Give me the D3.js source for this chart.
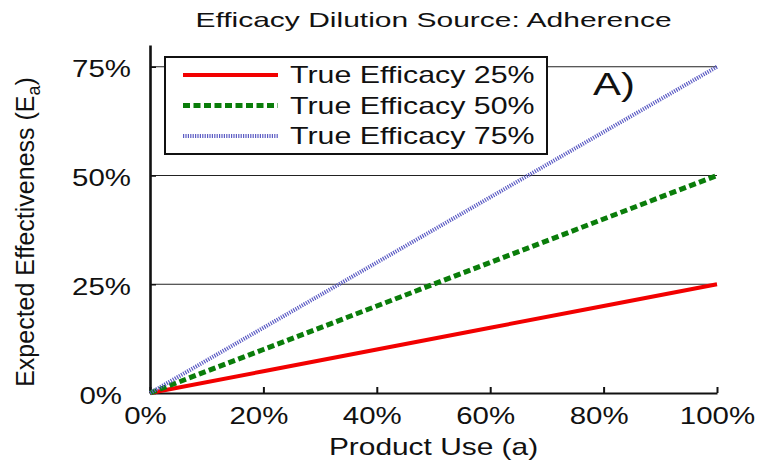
<!DOCTYPE html>
<html lang="en">
<head>
<meta charset="UTF-8">
<title>Efficacy Dilution Source: Adherence</title>
<script src="https://cdn.jsdelivr.net/npm/d3@7"></script>
<style>
  body { margin: 0; background: #fff; }
  text { font-family: "Liberation Sans", Arial, sans-serif; fill: #111; }
</style>
</head>
<body>
<svg id="chart"></svg>
<script>
  const width = 759, height = 460;

  // data
  const productUse = [0, 0.2, 0.4, 0.6, 0.8, 1.0];
  const eff25 = [0, 0.05, 0.10, 0.15, 0.20, 0.25];
  const eff50 = [0, 0.10, 0.20, 0.30, 0.40, 0.50];
  const eff75 = [0, 0.15, 0.30, 0.45, 0.60, 0.75];
  const seriesNames = ["True Efficacy 25%", "True Efficacy 50%", "True Efficacy 75%"];
  const xTicks = [0, 0.2, 0.4, 0.6, 0.8, 1.0];
  const yTicks = [0, 0.25, 0.5, 0.75];

  const series = [
    {name: seriesNames[0], values: eff25, color: "#f20000", width: 4,   dash: null},
    {name: seriesNames[1], values: eff50, color: "#0a7d0a", width: 5,   dash: "7,3.5"},
    {name: seriesNames[2], values: eff75, color: "#5c5cc4", width: 4,   dash: "1.2,1.2"}
  ];

  const svg = d3.select("#chart").attr("width", width).attr("height", height);

  const x = d3.scaleLinear().domain([0, 1]).range([150, 717]);
  const y = d3.scaleLinear().domain([0, 0.8]).range([393, 45]);
  const pct = d3.format(".0%");

  // gridlines
  svg.append("g")
    .selectAll("line")
    .data([0.25, 0.5, 0.75])
    .join("line")
      .attr("x1", x(0)).attr("x2", x(1))
      .attr("y1", d => y(d)).attr("y2", d => y(d))
      .attr("stroke", "#222").attr("stroke-width", 1.2);

  // axes
  const xAxis = svg.append("g")
    .attr("transform", `translate(0,${y(0)})`)
    .call(d3.axisBottom(x).tickValues(xTicks).tickFormat(pct).tickSize(-6).tickSizeOuter(0));
  xAxis.select(".domain").attr("stroke", "#111").attr("stroke-width", 2);
  xAxis.selectAll(".tick line").attr("stroke", "#111").attr("stroke-width", 2);
  xAxis.selectAll(".tick text")
    .attr("y", 31).attr("dy", 0).attr("x", 0)
    .attr("font-size", 23)
    .attr("transform", d => `translate(${d === 1 ? 0 : -5},0) scale(1.28,1)`);

  const yAxis = svg.append("g")
    .attr("transform", `translate(${x(0)},0)`)
    .call(d3.axisLeft(y).tickValues(yTicks).tickFormat(pct).tickSize(-6).tickSizeOuter(0));
  yAxis.select(".domain").attr("stroke", "#111").attr("stroke-width", 2.6);
  yAxis.selectAll(".tick line").attr("stroke", "#111").attr("stroke-width", 1.5);
  yAxis.selectAll(".tick text")
    .attr("x", 0).attr("dy", 0).attr("y", 10)
    .attr("font-size", 23)
    .attr("text-anchor", "end")
    .attr("transform", d => `translate(${d === 0 ? -28 : -19},0) scale(1.28,1)`);
  yAxis.attr("font-family", null);
  xAxis.attr("font-family", null);

  // series lines
  const line = d3.line().x((d, i) => x(productUse[i])).y(d => y(d));
  svg.append("g")
    .selectAll("path")
    .data(series)
    .join("path")
      .attr("d", d => line(d.values))
      .attr("fill", "none")
      .attr("stroke", d => d.color)
      .attr("stroke-width", d => d.width)
      .attr("stroke-dasharray", d => d.dash);

  // legend
  const legend = svg.append("g");
  legend.append("rect")
    .attr("x", 165).attr("y", 57).attr("width", 382).attr("height", 97)
    .attr("fill", "#fff").attr("stroke", "#111").attr("stroke-width", 2);
  const rows = legend.selectAll("g.row")
    .data(series)
    .join("g")
      .attr("class", "row")
      .attr("transform", (d, i) => `translate(0,${75 + i * 30.5})`);
  rows.append("line")
    .attr("x1", 183).attr("x2", 278)
    .attr("stroke", d => d.color)
    .attr("stroke-width", d => d.width)
    .attr("stroke-dasharray", d => d.dash);
  rows.append("text")
    .attr("transform", "translate(290,8) scale(1.32,1)")
    .attr("font-size", 23)
    .text(d => d.name);

  // panel label
  svg.append("text")
    .attr("transform", "translate(593,95) scale(1.31,1)")
    .attr("font-size", 32)
    .text("A)");

  // title
  svg.append("text")
    .attr("transform", `translate(${(x(0) + x(1)) / 2},27) scale(1.5,1)`)
    .attr("text-anchor", "middle")
    .attr("font-size", 20)
    .text("Efficacy Dilution Source: Adherence");

  // axis titles
  svg.append("text")
    .attr("transform", `translate(${(x(0) + x(1)) / 2},455) scale(1.3,1)`)
    .attr("text-anchor", "middle")
    .attr("font-size", 23)
    .text("Product Use (a)");

  const yl = svg.append("text")
    .attr("transform", "translate(34,232) rotate(-90)")
    .attr("text-anchor", "middle")
    .attr("font-size", 25);
  yl.append("tspan").text("Expected Effectiveness (E");
  yl.append("tspan").attr("font-size", 18).attr("dy", 6).text("a");
  yl.append("tspan").attr("dy", -6).text(")");
</script>
</body>
</html>
